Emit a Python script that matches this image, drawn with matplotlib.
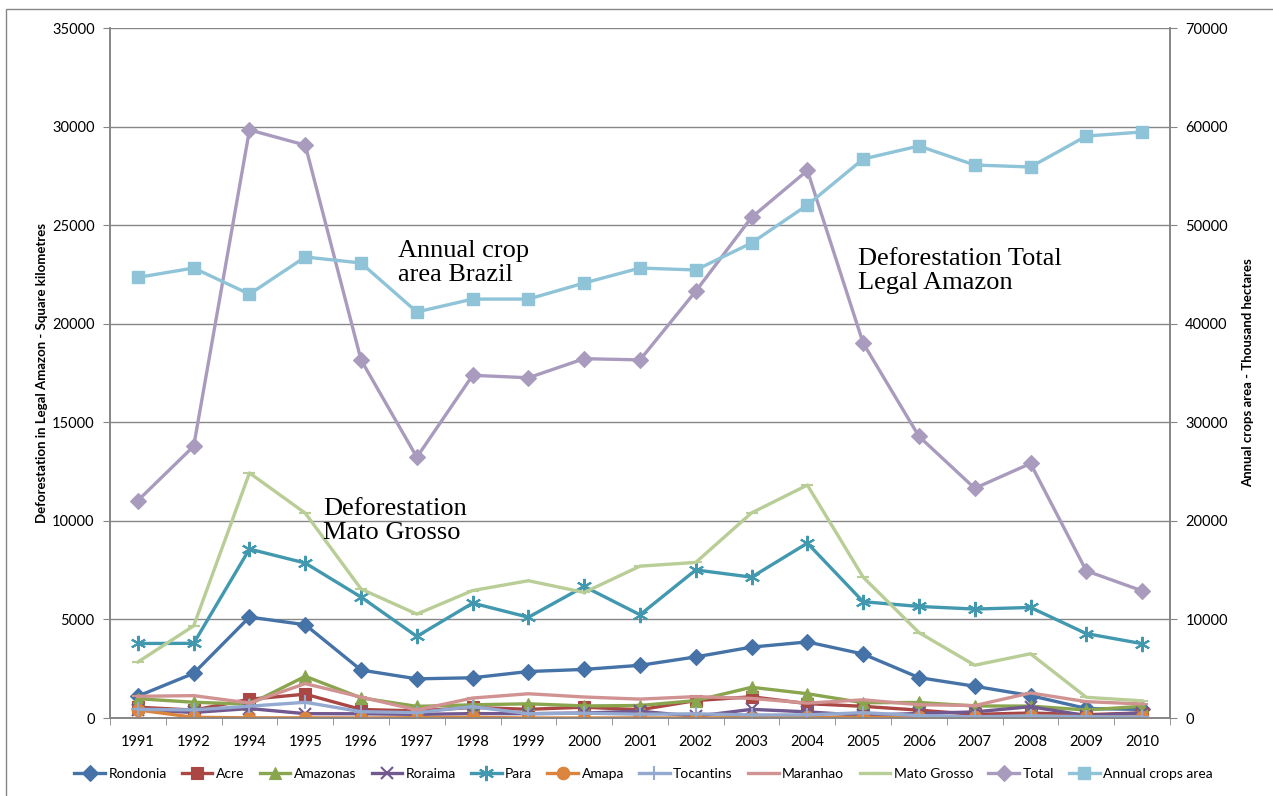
import numpy as np
import matplotlib.pyplot as plt
from matplotlib.patches import Rectangle

years = ["1991", "1992", "1994", "1995", "1996", "1997", "1998", "1999", "2000",
         "2001", "2002", "2003", "2004", "2005", "2006", "2007", "2008", "2009", "2010"]

rondonia = [1110, 2265, 5120, 4730, 2432, 1986, 2041, 2358, 2465, 2673, 3099, 3597, 3858, 3244, 2049, 1611, 1136, 482, 435]
acre = [550, 400, 950, 1208, 433, 358, 536, 441, 547, 419, 883, 1078, 728, 592, 398, 184, 254, 167, 259]
amazonas = [980, 799, 700, 2114, 1023, 589, 670, 720, 612, 634, 885, 1558, 1232, 775, 788, 610, 604, 405, 595]
roraima = [420, 281, 480, 220, 214, 184, 223, 220, 253, 345, 84, 439, 311, 133, 231, 309, 574, 121, 256]
para = [3780, 3787, 8570, 7860, 6135, 4139, 5829, 5111, 6671, 5237, 7510, 7145, 8870, 5899, 5659, 5526, 5607, 4281, 3770]
amapa = [410, 36, 9, 9, 0, 18, 30, 0, 0, 7, 0, 25, 46, 33, 30, 39, 100, 70, 53]
tocantins = [440, 409, 600, 797, 320, 273, 576, 216, 244, 189, 212, 156, 158, 271, 124, 63, 107, 61, 49]
maranhao = [1100, 1135, 760, 1745, 1061, 409, 1012, 1230, 1065, 958, 1085, 993, 755, 922, 674, 631, 1271, 828, 712]
mato_grosso = [2840, 4674, 12430, 10391, 6543, 5271, 6466, 6963, 6369, 7703, 7892, 10405, 11814, 7145, 4333, 2678, 3258, 1049, 871]
total = [11030, 13786, 29830, 29059, 18161, 13227, 17383, 17259, 18226, 18165, 21651, 25396, 27772, 19014, 14286, 11651, 12911, 7464, 6451]
crops = [44700, 45650, 43000, 46770, 46160, 41190, 42500, 42500, 44130, 45650, 45450, 48190, 52040, 56710, 58030, 56100, 55900, 59040, 59450]

plt.rcParams["font.family"] = ["Lato", "DejaVu Sans"]

fig = plt.figure(figsize=(12.73, 7.96), dpi=100)
ax = fig.add_axes([110 / 1273, 78 / 796, 1060 / 1273, 690 / 796])
ax2 = ax.twinx()

x = np.arange(len(years))
lw = 2.4
series = [
    ("Rondonia", rondonia, "#4572A7", "D", 8),
    ("Acre", acre, "#AA4643", "s", 8),
    ("Amazonas", amazonas, "#89A54E", "^", 9),
    ("Roraima", roraima, "#71588F", "x", 8),
    ("Para", para, "#4198AF", (6, 2, 0), 11),
    ("Amapa", amapa, "#DB843D", "o", 9),
    ("Tocantins", tocantins, "#93A9CF", "+", 10),
    ("Maranhao", maranhao, "#D19392", "_", 8),
    ("Mato Grosso", mato_grosso, "#B9CD96", "_", 8),
    ("Total", total, "#A99BBD", "D", 8),
]
handles = []
for name, vals, col, mk, ms in series:
    h, = ax.plot(x, vals, color=col, lw=lw, marker=mk, markersize=ms,
                 markeredgewidth=1.5 if mk in ("x", "+", "_") or isinstance(mk, tuple) else 0.8,
                 markeredgecolor=col, label=name, zorder=3)
    handles.append(h)

hc, = ax2.plot(x, crops, color="#8EC3D8", lw=lw, marker="s", markersize=8,
               markeredgecolor="#8EC3D8", label="Annual crops area", zorder=3)
handles.append(hc)

ax.set_xlim(-0.5, len(years) - 0.5)
ax.set_ylim(0, 35000)
ax2.set_ylim(0, 70000)
ax.set_yticks(np.arange(0, 35001, 5000))
ax2.set_yticks(np.arange(0, 70001, 10000))
ax.set_xticks(x)
ax.set_xticklabels(years)
ax.set_xticks(np.arange(-0.5, len(years)), minor=True)
ax.tick_params(axis="x", which="major", length=0, pad=12, labelsize=10.5)
ax.tick_params(axis="x", which="minor", length=5, color="#868686", direction="out")
ax.tick_params(axis="y", length=5, color="#868686", labelsize=10.5, pad=6)
ax2.tick_params(axis="y", length=5, color="#868686", labelsize=10.5, pad=6)

ax.grid(axis="y", color="#878787", lw=1)
ax.set_axisbelow(True)
for a in (ax, ax2):
    a.spines["top"].set_visible(False)
    for s in ("left", "right", "bottom"):
        a.spines[s].set_color("#868686")
        a.spines[s].set_linewidth(1.2)

ax.set_ylabel("Deforestation in Legal Amazon - Square kilometres",
              fontsize=9.5, fontweight="bold", labelpad=3)
ax2.set_ylabel("Annual crops area - Thousand hectares",
               fontsize=9.5, fontweight="bold", labelpad=10)

serif = dict(family="Liberation Serif", fontsize=19, va="top", linespacing=1.1)
fig.text(398 / 1273, 1 - 240 / 796, "Annual crop\narea Brazil", **serif)
fig.text(858 / 1273, 1 - 248 / 796, "Deforestation Total\nLegal Amazon", **serif)
fig.text(323 / 1273, 1 - 498 / 796, "Deforestation\nMato Grosso", **serif)

fig.legend(handles=handles, loc="center", bbox_to_anchor=(0.5 + 7 / 1273, 1 - 774 / 796),
           ncol=11, frameon=False, fontsize=10, handlelength=2.2,
           handletextpad=0.25, columnspacing=1.1, borderpad=0)

fig.patches.append(Rectangle((6 / 1273, -0.05), 1.1, 0.05 + 787 / 796,
                             transform=fig.transFigure, fill=False,
                             edgecolor="#868686", lw=1))

fig.savefig("out.png", dpi=100)
